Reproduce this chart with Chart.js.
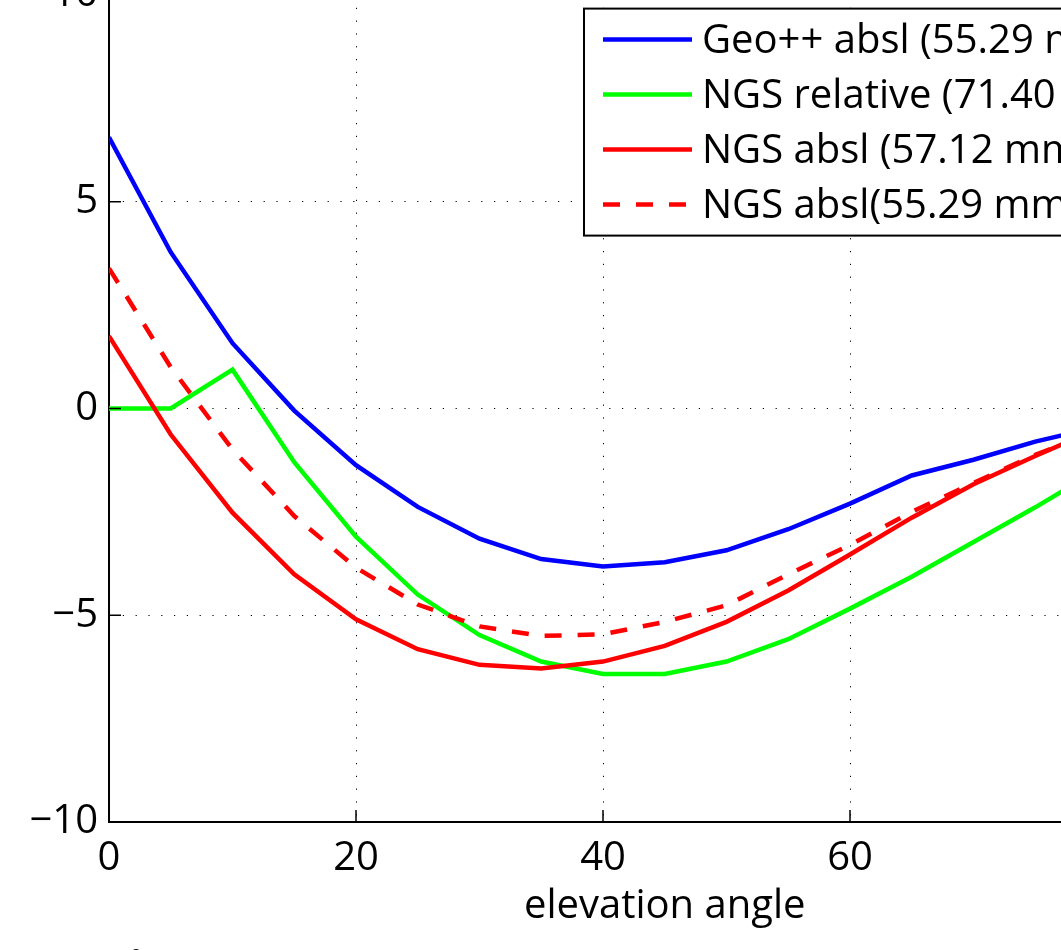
<!DOCTYPE html>
<html>
<head>
<meta charset="utf-8">
<script src="https://cdn.jsdelivr.net/npm/chart.js@4.4.1/dist/chart.umd.min.js"></script>
<style>
  html, body { margin: 0; padding: 0; width: 1061px; height: 950px; overflow: hidden; background: #fff; }
  #wrap { position: absolute; left: -60px; top: -40px; width: 1330px; height: 1000px; }
  #caption { position: absolute; left: 108px; top: 944px; font: bold 40px "Open Sans", sans-serif; line-height: 40px; color: #000; white-space: nowrap; }
</style>
</head>
<body>
<div id="wrap"><canvas id="elev-chart"></canvas></div>
<div id="caption">Figure 10</div>
<script>
const elevation = [0, 5, 10, 15, 20, 25, 30, 35, 40, 45, 50, 55, 60, 65, 70, 75, 80, 85, 90];
const geoAbsl = [6.56, 3.78, 1.58, -0.05, -1.37, -2.38, -3.15, -3.64, -3.82, -3.72, -3.43, -2.92, -2.3, -1.62, -1.24, -0.8, -0.45, -0.2, 0.0];
const ngsRelative = [0, 0, 0.94, -1.3, -3.1, -4.5, -5.48, -6.12, -6.42, -6.42, -6.12, -5.58, -4.84, -4.07, -3.23, -2.39, -1.5, -0.7, 0.0];
const ngsAbsl = [1.75, -0.63, -2.52, -4.01, -5.1, -5.82, -6.2, -6.29, -6.12, -5.74, -5.16, -4.4, -3.53, -2.64, -1.83, -1.15, -0.5, 0.0, 0.4];
const ngsAbsl2 = [3.39, 1.0, -0.99, -2.6, -3.85, -4.74, -5.27, -5.5, -5.46, -5.16, -4.76, -4.01, -3.3, -2.5, -1.8, -1.12, -0.55, -0.1, 0.3];
const seriesNames = ['Geo++ absl (55.29 mm)', 'NGS relative (71.40 mm)', 'NGS absl (57.12 mm)', 'NGS absl(55.29 mm)'];
const xTicks = [0, 20, 40, 60, 80];
const yTicks = [-10, -5, 0, 5, 10];

const FONT = '"Open Sans", sans-serif';

function pts(ys) {
    return elevation.map((x, i) => ({ x: x, y: ys[i] }));
}

// matlab style ticks pointing into the plot
const innerTicks = {
    id: 'innerTicks',
    afterDraw(chart) {
        const ctx = chart.ctx;
        const a = chart.chartArea;
        ctx.save();
        ctx.strokeStyle = '#000';
        ctx.lineWidth = 1.5;
        chart.scales.x.ticks.forEach(t => {
            const px = chart.scales.x.getPixelForValue(t.value);
            ctx.beginPath();
            ctx.moveTo(px, a.bottom);
            ctx.lineTo(px, a.bottom - 12);
            ctx.stroke();
        });
        chart.scales.y.ticks.forEach(t => {
            const py = chart.scales.y.getPixelForValue(t.value);
            ctx.beginPath();
            ctx.moveTo(a.left, py);
            ctx.lineTo(a.left + 12, py);
            ctx.stroke();
        });
        ctx.restore();
    }
};

// legend box inside the axes, top right
const boxLegend = {
    id: 'boxLegend',
    afterDatasetsDraw(chart) {
        const ctx = chart.ctx;
        const a = chart.chartArea;
        const left = a.left + 475;
        const top = a.top + 13.6;
        const rowH = 55;
        ctx.save();
        ctx.font = '40px ' + FONT;
        let w = 0;
        chart.data.datasets.forEach(d => { w = Math.max(w, ctx.measureText(d.label).width); });
        const boxW = 118 + w + 14;
        const boxH = 227;
        ctx.fillStyle = '#fff';
        ctx.fillRect(left, top, boxW, boxH);
        ctx.strokeStyle = '#000';
        ctx.lineWidth = 2;
        ctx.strokeRect(left, top, boxW, boxH);
        chart.data.datasets.forEach((d, i) => {
            const y = top + 31 + i * rowH;
            ctx.beginPath();
            ctx.strokeStyle = d.borderColor;
            ctx.lineWidth = d.borderWidth;
            ctx.setLineDash(d.borderDash || []);
            ctx.moveTo(left + 19, y);
            ctx.lineTo(left + 108, y);
            ctx.stroke();
            ctx.setLineDash([]);
            ctx.fillStyle = '#000';
            ctx.textBaseline = 'middle';
            ctx.textAlign = 'left';
            ctx.fillText(d.label, left + 118, y + 2);
        });
        ctx.restore();
    }
};

const elevContext = document.getElementById('elev-chart');

new Chart(elevContext, {
    type: 'line',
    data: {
        datasets: [{
            label: seriesNames[0],
            data: pts(geoAbsl),
            borderColor: '#0000ff',
            borderWidth: 4.5,
            order: 4
        }, {
            label: seriesNames[1],
            data: pts(ngsRelative),
            borderColor: '#00ff00',
            borderWidth: 4.5,
            order: 3
        }, {
            label: seriesNames[2],
            data: pts(ngsAbsl),
            borderColor: '#ff0000',
            borderWidth: 4.5,
            order: 2
        }, {
            label: seriesNames[3],
            data: pts(ngsAbsl2),
            borderColor: '#ff0000',
            borderWidth: 4.5,
            borderDash: [17, 16],
            order: 1
        }]
    },
    options: {
        responsive: true,
        maintainAspectRatio: false,
        animation: false,
        layout: { padding: { top: 28.4, right: 49.5, bottom: 0, left: 0 } },
        elements: {
            point: { radius: 0 },
            line: { tension: 0, borderCapStyle: 'butt', borderJoinStyle: 'miter' }
        },
        plugins: {
            legend: { display: false },
            tooltip: { enabled: false }
        },
        scales: {
            x: {
                type: 'linear',
                min: 0,
                max: 90,
                afterBuildTicks: s => { s.ticks = xTicks.map(v => ({ value: v })); },
                afterFit: s => { s.height = 138; },
                ticks: {
                    color: '#000',
                    font: { family: FONT, size: 40 },
                    padding: 13,
                    maxRotation: 0
                },
                grid: { color: '#000', lineWidth: 1, drawTicks: false },
                border: { color: '#000', width: 2, dash: [1.2, 11.6] },
                title: {
                    display: true,
                    text: 'elevation angle',
                    color: '#000',
                    font: { family: FONT, size: 40 },
                    padding: { top: 0, bottom: 29 }
                }
            },
            y: {
                min: -10,
                max: 10,
                afterBuildTicks: s => { s.ticks = yTicks.map(v => ({ value: v })); },
                afterFit: s => { s.width = 169; },
                ticks: {
                    color: '#000',
                    font: { family: FONT, size: 40 },
                    padding: 11,
                    callback: v => v < 0 ? '\u2212' + Math.abs(v) : String(v)
                },
                grid: { color: '#000', lineWidth: 1, drawTicks: false },
                border: { color: '#000', width: 2, dash: [1.2, 11.6] },
                title: {
                    display: true,
                    text: 'mm',
                    color: '#000',
                    font: { family: FONT, size: 40 },
                    padding: { top: 22, bottom: 0 }
                }
            }
        }
    },
    plugins: [innerTicks, boxLegend]
});
</script>
</body>
</html>
